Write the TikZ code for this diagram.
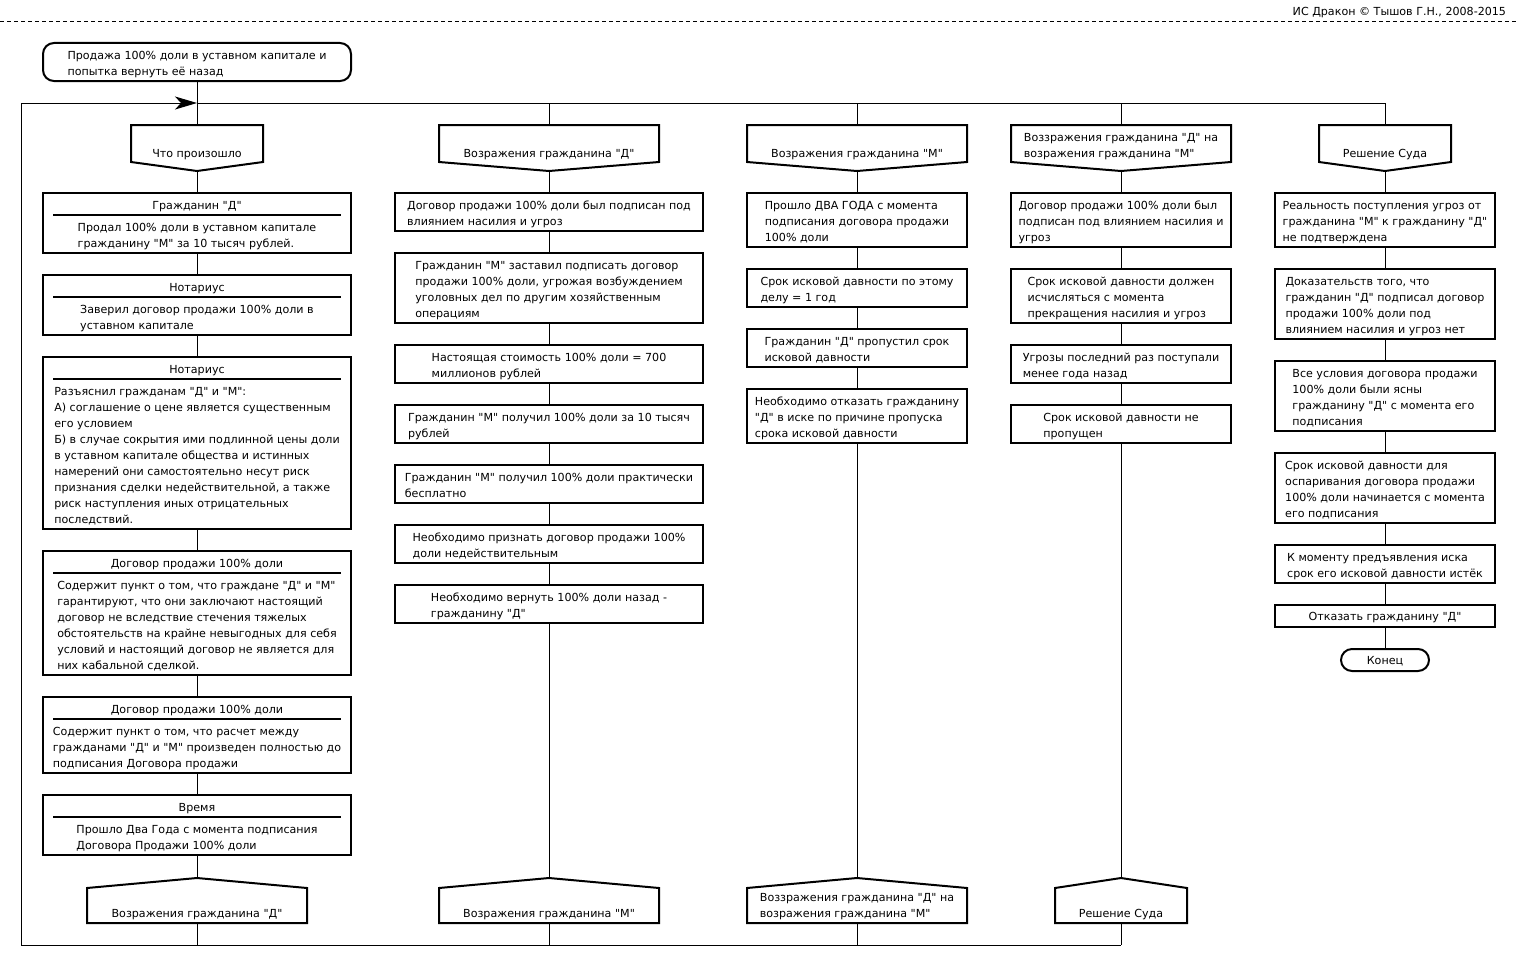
\documentclass[tikz,border=0pt]{standalone}
\usepackage{fontspec}
\setmainfont{DejaVu Sans}[Ligatures=TeXOff]
\usetikzlibrary{positioning,arrows.meta,calc,backgrounds}
\newcommand{\drakfont}{\fontsize{11.1pt}{16pt}\selectfont}
% extra space above the first line of a multi-line node
\newcommand{\drakgap}{\everycr{\noalign{\vskip3.2pt\global\everycr{}}}}

\begin{document}
\begin{tikzpicture}[
  x=1pt,y=1pt,
  font=\drakfont,
  >={Stealth[length=22pt,width=13pt,inset=6pt]},
  %--- node styles ---
  txt/.style      ={inner sep=0pt,outer sep=0pt,text=black,text depth=0pt,
                    execute at begin node=\drakgap},
  actbox/.style   ={txt,draw=black,line width=2pt,fill=white,inner xsep=3pt,
                    inner ysep=5.3pt,align=left},
  wideact/.style  ={actbox,minimum width=308pt},
  slimact/.style  ={actbox,minimum width=220pt},
  terminal/.style ={actbox,rounded corners=11pt},
  framebox/.style ={draw=black,line width=2pt,fill=white,inner sep=0pt,outer sep=0pt,
                    minimum width=308pt},
  hdrslot/.style  ={inner sep=0pt,outer sep=0pt,minimum width=#1,minimum height=37pt},
  adrslot/.style  ={inner sep=0pt,outer sep=0pt,minimum width=#1,minimum height=35pt},
  %--- line styles ---
  shapeline/.style={draw=black,line width=2pt,fill=white},
  sepline/.style  ={draw=black,line width=2pt},
  flow/.style     ={draw=black,line width=1pt},
  dashline/.style ={draw=black,line width=1pt,dash pattern=on 4pt off 3pt},
]
\useasboundingbox (0,0) rectangle (1517,-967);

%==================== header ====================
\node[txt,anchor=east] (credit) at (1506,-11.5) {ИС Дракон © Тышов Г.Н., 2008-2015};
\coordinate (rulel) at (0,-21.5);
\coordinate (ruler) at (1517,-21.5);
\draw[dashline] (rulel) -- (ruler);

\node[terminal,minimum width=308pt,minimum height=38pt] (title) at (197,-62)
  {Продажа 100\% доли в уставном капитале и\\попытка вернуть её назад};

%==================== loop corners / column junctions ====================
\coordinate (lt) at (21,-103);
\coordinate (lb) at (21,-945);
\coordinate (c1top) at (197,-103);
\coordinate (c2top) at (549,-103);
\coordinate (c3top) at (857,-103);
\coordinate (c4top) at (1121,-103);
\coordinate (c5top) at (1385,-103);
\coordinate (c1bot) at (197,-945);
\coordinate (c2bot) at (549,-945);
\coordinate (c3bot) at (857,-945);
\coordinate (c4bot) at (1121,-945);

%==================== column 1: what happened ====================
\node[hdrslot=132pt] (c1h) at (197,-143.5) {};
\draw[shapeline] (c1h.north west) -- (c1h.north east) -- (c1h.south east)
  -- ([yshift=-9pt]c1h.south) -- (c1h.south west) -- cycle;
\node[txt,align=left,anchor=south] (c1hl) at ([yshift=4.3pt]c1h.south) {Что произошло};

\node[framebox,minimum height=60pt]  (c1a) at (197,-223) {};
\node[framebox,minimum height=60pt]  (c1b) at (197,-305) {};
\node[framebox,minimum height=172pt] (c1c) at (197,-443) {};
\node[framebox,minimum height=124pt] (c1d) at (197,-613) {};
\node[framebox,minimum height=76pt]  (c1e) at (197,-735) {};
\node[framebox,minimum height=60pt]  (c1f) at (197,-825) {};

\node[txt] (c1at) at (197,-205.5) {Гражданин "Д"};
\draw[sepline] ([shift={(10,-21.5)}]c1a.north west) -- ([shift={(-10,-21.5)}]c1a.north east);
\node[txt,align=left] (c1ab) at (197,-234)
  {Продал 100\% доли в уставном капитале\\гражданину "М" за 10 тысяч рублей.};

\node[txt] (c1bt) at (197,-287.5) {Нотариус};
\draw[sepline] ([shift={(10,-21.5)}]c1b.north west) -- ([shift={(-10,-21.5)}]c1b.north east);
\node[txt,align=left] (c1bb) at (197,-316)
  {Заверил договор продажи 100\% доли в\\уставном капитале};

\node[txt] (c1ct) at (197,-369.5) {Нотариус};
\draw[sepline] ([shift={(10,-21.5)}]c1c.north west) -- ([shift={(-10,-21.5)}]c1c.north east);
\node[txt,align=left] (c1cb) at (197,-454)
  {Разъяснил гражданам "Д" и "М":\\
   А) соглашение о цене является существенным\\
   его условием\\
   Б) в случае сокрытия ими подлинной цены доли\\
   в уставном капитале общества и истинных\\
   намерений они самостоятельно несут риск\\
   признания сделки недействительной, а также\\
   риск наступления иных отрицательных\\
   последствий.};

\node[txt] (c1dt) at (197,-563.5) {Договор продажи 100\% доли};
\draw[sepline] ([shift={(10,-21.5)}]c1d.north west) -- ([shift={(-10,-21.5)}]c1d.north east);
\node[txt,align=left] (c1db) at (197,-624)
  {Содержит пункт о том, что граждане "Д" и "М"\\
   гарантируют, что они заключают настоящий\\
   договор не вследствие стечения тяжелых\\
   обстоятельств на крайне невыгодных для себя\\
   условий и настоящий договор не является для\\
   них кабальной сделкой.};

\node[txt] (c1et) at (197,-709.5) {Договор продажи 100\% доли};
\draw[sepline] ([shift={(10,-21.5)}]c1e.north west) -- ([shift={(-10,-21.5)}]c1e.north east);
\node[txt,align=left] (c1eb) at (197,-746)
  {Содержит пункт о том, что расчет между\\
   гражданами "Д" и "М" произведен полностью до\\
   подписания Договора продажи};

\node[txt] (c1ft) at (197,-807.5) {Время};
\draw[sepline] ([shift={(10,-21.5)}]c1f.north west) -- ([shift={(-10,-21.5)}]c1f.north east);
\node[txt,align=left] (c1fb) at (197,-836)
  {Прошло Два Года с момента подписания\\Договора Продажи 100\% доли};

\node[adrslot=220pt] (c1z) at (197,-905.5) {};
\draw[shapeline] (c1z.south west) -- (c1z.north west) -- ([yshift=10pt]c1z.north)
  -- (c1z.north east) -- (c1z.south east) -- cycle;
\node[txt,align=left,anchor=south] (c1zl) at ([yshift=5.3pt]c1z.south) {Возражения гражданина "Д"};

%==================== column 2: objections of "D" ====================
\node[hdrslot=220pt] (c2h) at (549,-143.5) {};
\draw[shapeline] (c2h.north west) -- (c2h.north east) -- (c2h.south east)
  -- ([yshift=-9pt]c2h.south) -- (c2h.south west) -- cycle;
\node[txt,align=left,anchor=south] (c2hl) at ([yshift=4.3pt]c2h.south) {Возражения гражданина "Д"};

\node[wideact] (c2a) at (549,-212) {Договор продажи 100\% доли был подписан под\\влиянием насилия и угроз};
\node[wideact] (c2b) at (549,-288) {Гражданин "М" заставил подписать договор\\продажи 100\% доли, угрожая возбуждением\\уголовных дел по другим хозяйственным\\операциям};
\node[wideact] (c2c) at (549,-364) {Настоящая стоимость 100\% доли = 700\\миллионов рублей};
\node[wideact] (c2d) at (549,-424) {Гражданин "М" получил 100\% доли за 10 тысяч\\рублей};
\node[wideact] (c2e) at (549,-484) {Гражданин "М" получил 100\% доли практически\\бесплатно};
\node[wideact] (c2f) at (549,-544) {Необходимо признать договор продажи 100\%\\доли недействительным};
\node[wideact] (c2g) at (549,-604) {Необходимо вернуть 100\% доли назад -\\гражданину "Д"};

\node[adrslot=220pt] (c2z) at (549,-905.5) {};
\draw[shapeline] (c2z.south west) -- (c2z.north west) -- ([yshift=10pt]c2z.north)
  -- (c2z.north east) -- (c2z.south east) -- cycle;
\node[txt,align=left,anchor=south] (c2zl) at ([yshift=5.3pt]c2z.south) {Возражения гражданина "М"};

%==================== column 3: objections of "M" ====================
\node[hdrslot=220pt] (c3h) at (857,-143.5) {};
\draw[shapeline] (c3h.north west) -- (c3h.north east) -- (c3h.south east)
  -- ([yshift=-9pt]c3h.south) -- (c3h.south west) -- cycle;
\node[txt,align=left,anchor=south] (c3hl) at ([yshift=4.3pt]c3h.south) {Возражения гражданина "М"};

\node[slimact] (c3a) at (857,-220) {Прошло ДВА ГОДА с момента\\подписания договора продажи\\100\% доли};
\node[slimact] (c3b) at (857,-288) {Срок исковой давности по этому\\делу = 1 год};
\node[slimact] (c3c) at (857,-348) {Гражданин "Д" пропустил срок\\исковой давности};
\node[slimact] (c3d) at (857,-416) {Необходимо отказать гражданину\\"Д" в иске по причине пропуска\\срока исковой давности};

\node[adrslot=220pt] (c3z) at (857,-905.5) {};
\draw[shapeline] (c3z.south west) -- (c3z.north west) -- ([yshift=10pt]c3z.north)
  -- (c3z.north east) -- (c3z.south east) -- cycle;
\node[txt,align=left,anchor=south] (c3zl) at ([yshift=5.3pt]c3z.south)
  {Воззражения гражданина "Д" на\\возражения гражданина "М"};

%==================== column 4: reply of "D" ====================
\node[hdrslot=220pt] (c4h) at (1121,-143.5) {};
\draw[shapeline] (c4h.north west) -- (c4h.north east) -- (c4h.south east)
  -- ([yshift=-9pt]c4h.south) -- (c4h.south west) -- cycle;
\node[txt,align=left,anchor=south] (c4hl) at ([yshift=4.3pt]c4h.south)
  {Воззражения гражданина "Д" на\\возражения гражданина "М"};

\node[slimact] (c4a) at (1121,-220) {Договор продажи 100\% доли был\\подписан под влиянием насилия и\\угроз};
\node[slimact] (c4b) at (1121,-296) {Срок исковой давности должен\\исчисляться с момента\\прекращения насилия и угроз};
\node[slimact] (c4c) at (1121,-364) {Угрозы последний раз поступали\\менее года назад};
\node[slimact] (c4d) at (1121,-424) {Срок исковой давности не\\пропущен};

\node[adrslot=132pt] (c4z) at (1121,-905.5) {};
\draw[shapeline] (c4z.south west) -- (c4z.north west) -- ([yshift=10pt]c4z.north)
  -- (c4z.north east) -- (c4z.south east) -- cycle;
\node[txt,align=left,anchor=south] (c4zl) at ([yshift=5.3pt]c4z.south) {Решение Суда};

%==================== column 5: court decision ====================
\node[hdrslot=132pt] (c5h) at (1385,-143.5) {};
\draw[shapeline] (c5h.north west) -- (c5h.north east) -- (c5h.south east)
  -- ([yshift=-9pt]c5h.south) -- (c5h.south west) -- cycle;
\node[txt,align=left,anchor=south] (c5hl) at ([yshift=4.3pt]c5h.south) {Решение Суда};

\node[slimact] (c5a) at (1385,-220) {Реальность поступления угроз от\\гражданина "М" к гражданину "Д"\\не подтверждена};
\node[slimact] (c5b) at (1385,-304) {Доказательств того, что\\гражданин "Д" подписал договор\\продажи 100\% доли под\\влиянием насилия и угроз нет};
\node[slimact] (c5c) at (1385,-396) {Все условия договора продажи\\100\% доли были ясны\\гражданину "Д" с момента его\\подписания};
\node[slimact] (c5d) at (1385,-488) {Срок исковой давности для\\оспаривания договора продажи\\100\% доли начинается с момента\\его подписания};
\node[slimact] (c5e) at (1385,-564) {К моменту предъявления иска\\срок его исковой давности истёк};
\node[slimact,minimum height=22pt] (c5f) at (1385,-616) {Отказать гражданину "Д"};
\node[terminal,minimum width=88pt,minimum height=22pt] (c5end) at (1385,-660) {Конец};

%==================== flow lines (behind the icons) ====================
\begin{scope}[on background layer]
\draw[flow,->] (lb) -- (lt) -- (c1top);
\draw[flow] (c1top) -- (c5top);
\draw[flow] (lb) -- (c4bot);

\draw[flow] (title.south) -- (c1h.north) (c1h.south) -- (c1a.north)
  (c1a.south) -- (c1b.north) (c1b.south) -- (c1c.north) (c1c.south) -- (c1d.north)
  (c1d.south) -- (c1e.north) (c1e.south) -- (c1f.north) (c1f.south) -- (c1z.north)
  (c1z.south) -- (c1bot);

\draw[flow] (c2top) -- (c2h.north) (c2h.south) -- (c2a.north)
  (c2a.south) -- (c2b.north) (c2b.south) -- (c2c.north) (c2c.south) -- (c2d.north)
  (c2d.south) -- (c2e.north) (c2e.south) -- (c2f.north) (c2f.south) -- (c2g.north)
  (c2g.south) -- (c2z.north) (c2z.south) -- (c2bot);

\draw[flow] (c3top) -- (c3h.north) (c3h.south) -- (c3a.north)
  (c3a.south) -- (c3b.north) (c3b.south) -- (c3c.north) (c3c.south) -- (c3d.north)
  (c3d.south) -- (c3z.north) (c3z.south) -- (c3bot);

\draw[flow] (c4top) -- (c4h.north) (c4h.south) -- (c4a.north)
  (c4a.south) -- (c4b.north) (c4b.south) -- (c4c.north) (c4c.south) -- (c4d.north)
  (c4d.south) -- (c4z.north) (c4z.south) -- (c4bot);

\draw[flow] (c5top) -- (c5h.north) (c5h.south) -- (c5a.north)
  (c5a.south) -- (c5b.north) (c5b.south) -- (c5c.north) (c5c.south) -- (c5d.north)
  (c5d.south) -- (c5e.north) (c5e.south) -- (c5f.north) (c5f.south) -- (c5end.north);
\end{scope}

\end{tikzpicture}
\end{document}
